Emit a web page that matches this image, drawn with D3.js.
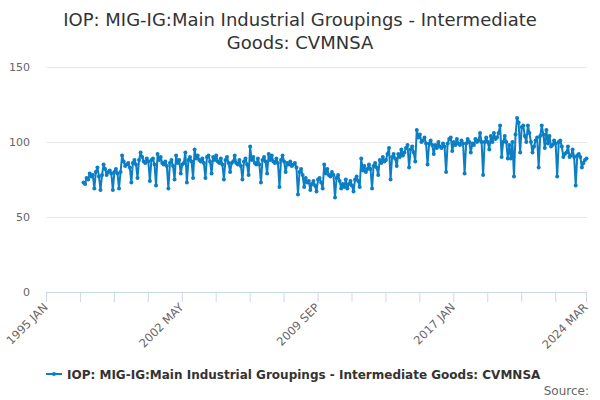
<!DOCTYPE html>
<html>
<head>
<meta charset="utf-8">
<script src="https://cdn.jsdelivr.net/npm/d3@7"></script>
<style>
  body { margin: 0; background: #fff; }
  svg { font-family: "DejaVu Sans", sans-serif; }
</style>
</head>
<body>
<script>
// monthly values, 1997 JAN .. 2024 MAR
var firstMonth = [1997, 0];
var values = [
  73, 72, 76, 75, 79, 77, 78, 69, 80, 83, 77, 68,        // 1997
  78, 85, 82, 78, 80, 81, 79, 68, 80, 82, 79, 69,        // 1998
  80, 91, 87, 84, 85, 86, 83, 73, 86, 88, 85, 76,        // 1999
  88, 93, 90, 87, 86, 89, 87, 74, 88, 89, 85, 71,        // 2000
  92, 88, 90, 86, 85, 87, 84, 69, 86, 88, 84, 75,        // 2001
  91, 86, 88, 79, 85, 86, 93, 73, 88, 90, 87, 76,        // 2002
  95, 89, 91, 88, 87, 89, 86, 76, 90, 91, 87, 79,        // 2003
  90, 88, 91, 87, 86, 89, 85, 75, 88, 90, 86, 80,        // 2004
  86, 87, 91, 86, 85, 88, 84, 75, 87, 89, 85, 78,        // 2005
  97, 88, 90, 86, 85, 89, 85, 73, 88, 90, 87, 79,        // 2006
  92, 88, 91, 87, 86, 89, 86, 70, 88, 91, 87, 80,        // 2007
  86, 85, 87, 84, 85, 86, 83, 65, 80, 82, 78, 70,        // 2008
  76, 73, 74, 68, 72, 74, 71, 67, 75, 76, 73, 69,        // 2009
  85, 79, 82, 78, 77, 80, 78, 63, 76, 78, 74, 69,        // 2010
  72, 70, 75, 69, 72, 74, 71, 67, 75, 77, 74, 70,        // 2011
  89, 81, 84, 80, 82, 85, 82, 69, 84, 86, 83, 78,        // 2012
  88, 86, 90, 87, 88, 92, 96, 75, 90, 92, 89, 84,        // 2013
  92, 90, 95, 91, 93, 96, 98, 83, 95, 97, 93, 87,        // 2014
  108, 103, 105, 100, 101, 103, 99, 85, 99, 101, 98, 92, // 2015
  98, 96, 100, 97, 96, 99, 97, 80, 99, 102, 103, 94,     // 2016
  100, 98, 102, 99, 98, 101, 99, 79, 99, 102, 100, 93,   // 2017
  99, 98, 102, 100, 101, 106, 100, 78, 100, 103, 100, 95,// 2018
  104, 100, 106, 102, 103, 106, 111, 90, 100, 104, 100, 89, // 2019
  98, 89, 100, 77, 105, 116, 113, 93, 110, 111, 104, 100,   // 2020
  111, 106, 100, 93, 97, 101, 103, 83, 104, 111, 105, 96,   // 2021
  108, 99, 104, 97, 98, 101, 99, 77, 100, 101, 97, 90,      // 2022
  92, 93, 97, 90, 91, 95, 90, 71, 91, 92, 90, 83,           // 2023
  86, 88, 89                                                // 2024
];
var monthNames = ["JAN","FEB","MAR","APR","MAY","JUN","JUL","AUG","SEP","OCT","NOV","DEC"];
var tickLabels = ["1995 JAN", "2002 MAY", "2009 SEP", "2017 JAN", "2024 MAR"];
var yTicks = [0, 50, 100, 150];
var titleLines = ["IOP: MIG-IG:Main Industrial Groupings - Intermediate", "Goods: CVMNSA"];
var seriesName = "IOP: MIG-IG:Main Industrial Groupings - Intermediate Goods: CVMNSA";

var W = 600, H = 400;
var plotLeft = 46.5, plotRight = 586.5, plotTop = 67, plotBottom = 292;
var color = "#0c7fc4";

// month index counted from 1995 JAN
function monthIndex(label) {
  var p = label.split(" ");
  return (+p[0] - 1995) * 12 + monthNames.indexOf(p[1]);
}
var start = (firstMonth[0] - 1995) * 12 + firstMonth[1];
var data = values.map(function(v, i) { return { m: start + i, v: v }; });

var first = monthIndex(tickLabels[0]), last = monthIndex(tickLabels[tickLabels.length - 1]);
var x = d3.scaleLinear().domain([first, last]).range([plotLeft, plotRight]);
var y = d3.scaleLinear().domain([0, 150]).range([plotBottom, plotTop]);

var svg = d3.select("body").append("svg")
  .attr("width", W)
  .attr("height", H);

svg.append("rect").attr("width", W).attr("height", H).attr("fill", "#fff");

// title
svg.append("text")
  .attr("x", W / 2)
  .attr("y", 26)
  .attr("text-anchor", "middle")
  .style("font-size", "18px")
  .attr("fill", "#333")
  .selectAll("tspan")
  .data(titleLines)
  .enter().append("tspan")
    .attr("x", W / 2)
    .attr("dy", function(d, i) { return i ? 23 : 0; })
    .text(function(d) { return d; });

// grid + y labels
svg.append("g").selectAll("line")
  .data(yTicks.filter(function(d) { return d > 0; }))
  .enter().append("line")
    .attr("x1", plotLeft).attr("x2", plotRight)
    .attr("y1", function(d) { return Math.round(y(d)) + 0.5; })
    .attr("y2", function(d) { return Math.round(y(d)) + 0.5; })
    .attr("stroke", "#e6e6e6");

svg.append("g").selectAll("text")
  .data(yTicks)
  .enter().append("text")
    .attr("x", 30)
    .attr("y", function(d) { return y(d) + 4; })
    .attr("text-anchor", "end")
    .style("font-size", "11px")
    .attr("fill", "#666")
    .text(function(d) { return d; });

// x axis: a tick every 22 months, plus the last month
var tickMonths = d3.range(first, last, 22).concat([last]);
var xAxis = svg.append("g");
xAxis.append("line")
  .attr("x1", plotLeft).attr("x2", plotRight)
  .attr("y1", plotBottom + 0.5).attr("y2", plotBottom + 0.5)
  .attr("stroke", "#ccd6eb");
xAxis.selectAll("line.tick")
  .data(tickMonths)
  .enter().append("line")
    .attr("class", "tick")
    .attr("x1", function(d) { return x(d); })
    .attr("x2", function(d) { return x(d); })
    .attr("y1", plotBottom).attr("y2", plotBottom + 10)
    .attr("stroke", "#ccd6eb");
xAxis.selectAll("text")
  .data(tickLabels)
  .enter().append("text")
    .attr("transform", function(d) {
      return "translate(" + (x(monthIndex(d)) + 2) + "," + (plotBottom + 16) + ") rotate(-45)";
    })
    .attr("text-anchor", "end")
    .style("font-size", "11.5px")
    .attr("fill", "#666")
    .text(function(d) { return d; });

// series
var line = d3.line()
  .x(function(d) { return x(d.m); })
  .y(function(d) { return y(d.v); });

svg.append("path")
  .datum(data)
  .attr("d", line)
  .attr("fill", "none")
  .attr("stroke", color)
  .attr("stroke-width", 2)
  .attr("stroke-linejoin", "round");

svg.append("g").selectAll("circle")
  .data(data)
  .enter().append("circle")
    .attr("cx", function(d) { return x(d.m); })
    .attr("cy", function(d) { return y(d.v); })
    .attr("r", 2)
    .attr("fill", color);

// legend
var legend = svg.append("g").attr("transform", "translate(46,374)");
legend.append("line").attr("x1", 0).attr("x2", 16).attr("y1", 0).attr("y2", 0)
  .attr("stroke", color).attr("stroke-width", 2);
legend.append("circle").attr("cx", 8).attr("cy", 0).attr("r", 2).attr("fill", color);
legend.append("text")
  .attr("x", 21).attr("y", 4.5)
  .style("font-size", "12px")
  .style("font-weight", "bold")
  .attr("fill", "#333")
  .text(seriesName);

// credits
svg.append("text")
  .attr("x", 589).attr("y", 395)
  .attr("text-anchor", "end")
  .style("font-size", "12px")
  .attr("fill", "#666")
  .text("Source:");
</script>
</body>
</html>
